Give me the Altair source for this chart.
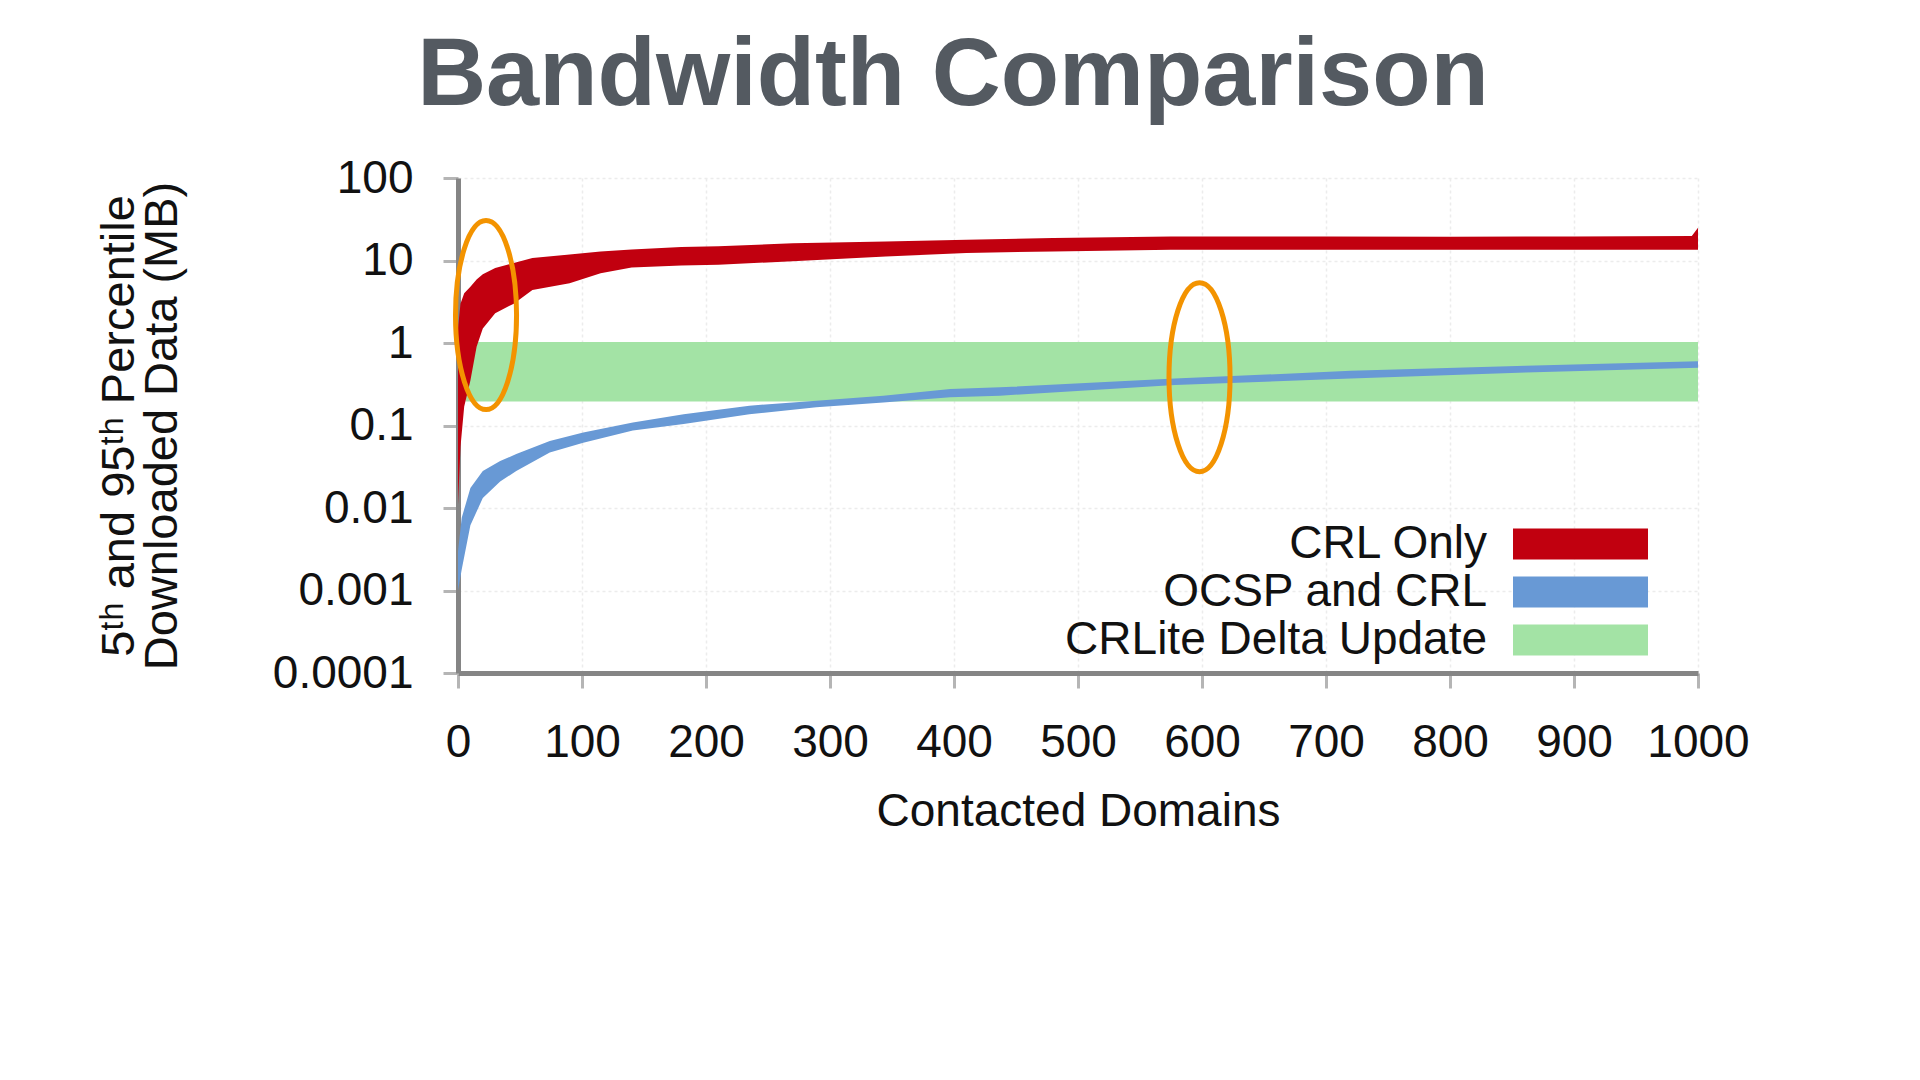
import altair as alt
import pandas as pd

# ---- data ----
series_names = ["CRL Only", "OCSP and CRL", "CRLite Delta Update"]
series_colors = ["#c1000f", "#6899d5", "#a3e3a5"]

# CRL Only: 5th / 95th percentile band
red_x = [0, 2, 5, 10, 15, 20, 30, 45, 60, 90, 115, 140, 180, 210, 270, 345, 410, 480, 575, 700, 800, 900, 995, 1000]
red_low = [0.011, 0.055, 0.17, 0.35, 0.9, 1.5, 2.3, 3.0, 4.4, 5.3, 7.0, 8.2, 8.7, 8.9, 9.8, 11.2, 12.3, 12.9, 13.5, 13.5, 13.5, 13.5, 13.5, 13.5]
red_high = [1.5, 3.0, 4.0, 4.8, 5.9, 6.8, 8.1, 9.3, 10.7, 11.8, 12.9, 13.6, 14.6, 14.9, 16.2, 17.0, 17.9, 18.7, 19.6, 19.5, 19.4, 19.6, 19.8, 25.0]

# OCSP and CRL band
blue_x = [0, 3, 10, 20, 34, 47, 74, 101, 141, 182, 235, 289, 343, 397, 437, 578, 720, 861, 1000]
blue_low = [0.001, 0.0018, 0.0062, 0.0132, 0.021, 0.028, 0.047, 0.062, 0.087, 0.104, 0.137, 0.166, 0.19, 0.22, 0.23, 0.31, 0.37, 0.44, 0.5]
blue_high = [0.003, 0.0076, 0.0175, 0.028, 0.037, 0.045, 0.065, 0.082, 0.109, 0.137, 0.174, 0.2, 0.23, 0.277, 0.29, 0.37, 0.46, 0.53, 0.6]

# CRLite Delta Update band
green_x = [6, 1000]
green_low = [0.196, 0.196]
green_high = [1.03, 1.03]

# orange highlight ellipses (annotation positions)
ell_x = [22.6, 598]
ell_y = [2.18, 0.385]

x_ticks = [0, 100, 200, 300, 400, 500, 600, 700, 800, 900, 1000]
y_ticks = [0.0001, 0.001, 0.01, 0.1, 1, 10, 100]

rows = []
for name, xs, lo, hi in [
    ("CRL Only", red_x, red_low, red_high),
    ("OCSP and CRL", blue_x, blue_low, blue_high),
    ("CRLite Delta Update", green_x, green_low, green_high),
]:
    for a, b, c in zip(xs, lo, hi):
        rows.append({"series": name, "x": a, "low": b, "high": c})
df = pd.DataFrame(rows)
ell_df = pd.DataFrame({"x": ell_x, "low": ell_y})

FONT = "Liberation Sans"
W, H = 1240, 495

xenc = alt.X(
    "x:Q",
    scale=alt.Scale(domain=[0, 1000], nice=False),
    title="Contacted Domains",
    axis=alt.Axis(
        values=x_ticks, format="d",
        domainColor="#858585", domainWidth=5,
        tickColor="#b5b5b5", tickWidth=3, tickSize=15,
        labelFont=FONT, labelFontSize=46, labelColor="#111111",
        labelPadding=54, labelBaseline="middle", labelFlush=False, labelOverlap=False,
        grid=True, gridColor="#ececec", gridDash=[3, 3], gridWidth=1.5,
        titleFont=FONT, titleFontSize=46, titleFontWeight="normal", titleColor="#111111",
        titleX=W / 2, titleY=138, titleAlign="center", titleBaseline="middle",
    ),
)
yenc = alt.Y(
    "low:Q",
    scale=alt.Scale(type="log", domain=[0.0001, 100], nice=False),
    title=["5ᵗʰ and 95ᵗʰ Percentile", "Downloaded Data (MB)"],
    axis=alt.Axis(
        values=y_ticks, format="~g",
        domainColor="#858585", domainWidth=5,
        tickColor="#b5b5b5", tickWidth=3, tickSize=15,
        labelFont=FONT, labelFontSize=46, labelColor="#111111",
        labelPadding=30, labelFlush=False, labelOverlap=False,
        grid=True, gridColor="#ececec", gridDash=[3, 3], gridWidth=1.5,
        titleFont=FONT, titleFontSize=47, titleFontWeight="normal", titleColor="#111111",
        titleX=-339, titleY=H / 2, titleAngle=270, titleAlign="center",
        titleBaseline="middle", titleLineHeight=43,
    ),
)
color = alt.Color(
    "series:N",
    scale=alt.Scale(domain=series_names, range=series_colors),
    legend=alt.Legend(
        orient="none", legendX=983, legendY=343, title=None, padding=0,
        symbolType="M3.267,-1.033H12.267V1.033H3.267Z", symbolSize=900, symbolStrokeWidth=0,
        symbolOpacity=1, rowPadding=2,
        labelFont=FONT, labelFontSize=46, labelColor="#111111",
        labelAlign="right", labelOffset=0, labelLimit=800,
    ),
)


def band(name):
    return (
        alt.Chart(df)
        .transform_filter(alt.datum.series == name)
        .mark_area(opacity=1, interpolate="linear")
        .encode(x=xenc, y=yenc, y2="high:Q", color=color)
    )


ellipses = alt.Chart(ell_df).mark_point(
    shape="M0,-1A0.323,1 0 1,1 0,1A0.323,1 0 1,1 0,-1Z",
    size=35721, filled=False, stroke="#f39300", strokeWidth=5, opacity=1,
).encode(x=xenc, y=yenc)

chart = (
    alt.layer(band("CRLite Delta Update"), band("OCSP and CRL"), band("CRL Only"), ellipses)
    .properties(
        width=W, height=H,
        autosize=alt.AutoSizeParams(type="none"),
        padding={"left": 450, "top": 170, "right": 214, "bottom": 399},
        title=alt.TitleParams(
            "Bandwidth Comparison", anchor="middle", font=FONT, fontSize=95.5,
            fontWeight="bold", color="#545a61", dx=-125, dy=89, offset=44,
            baseline="alphabetic",
        ),
    )
    .configure_view(stroke=None)
)

chart.save("out.html", embed_options={"renderer": "svg", "actions": False})
